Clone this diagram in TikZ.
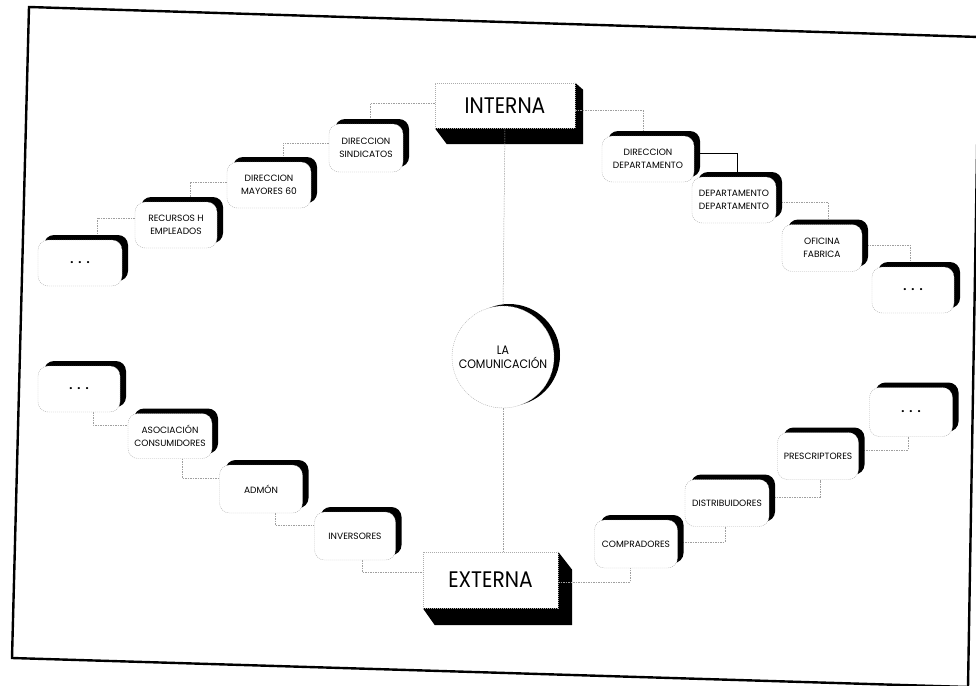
\documentclass[tikz,border=0pt]{standalone}
\usepackage{fontspec}
\newfontfamily\lab[FakeStretch=0.9]{Poppins}
\newfontfamily\slab{Poppins}
\pgfdeclarelayer{bg}
\pgfsetlayers{bg,main}
\tikzset{
  frame/.style={draw=black, line width=2.4pt, line join=miter},
  conn/.style={draw=gray!75, line width=0.5pt, dash pattern=on 1.5pt off 1pt},
  solidconn/.style={draw=black, line width=0.6pt},
  face/.style={fill=white, draw=gray!65, line width=0.4pt, dash pattern=on 1pt off 1pt},
  cbox/.style={face, rounded corners=10pt, align=center, inner sep=1pt,
    font=\slab\fontsize{9.1}{13}\selectfont,
    preaction={fill=black, transform canvas={shift={(6pt,5pt)}}}},
  bigbox/.style={face, inner sep=0pt, font=\lab\fontsize{22.5}{24}\selectfont},
  hub/.style={face, circle, minimum size=102pt, inner sep=0pt, align=center,
    font=\lab\fontsize{12.3}{14}\selectfont,
    preaction={fill=black, transform canvas={shift={(6pt,2pt)}}}},
  extr/.style={fill=black}
}
\newcommand{\ddd}{\textbf{\fontsize{11}{11}\selectfont .\hspace{5pt}.\hspace{5pt}.}}
\begin{document}
\begin{tikzpicture}[x=1pt,y=-1pt]
\useasboundingbox (0,0) rectangle (976,685);
\clip (0,0) rectangle (976,685);
\draw[frame] (29,7) -- (979,37) -- (968,687) -- (12,658) -- cycle;

% main boxes
\node[bigbox, minimum width=140pt, minimum height=45pt] (int) at (505,105.5) {INTERNA};
\node[bigbox, minimum width=135pt, minimum height=56pt] (ext) at (490.5,580) {EXTERNA};
\node[hub] (com) at (503,357) {LA\\COMUNICACIÓN};

% top-left chain
\node[cbox, minimum width=74pt, minimum height=48pt] (sind) at (366,148) {DIRECCION\\SINDICATOS};
\node[cbox, minimum width=84pt, minimum height=46pt] (may) at (269,185) {DIRECCION\\MAYORES 60};
\node[cbox, minimum width=82pt, minimum height=46pt] (rec) at (176,225) {RECURSOS H\\EMPLEADOS};
\node[cbox, minimum width=84pt, minimum height=46pt] (dtl) at (80,263) {\ddd};

% top-right chain
\node[cbox, minimum width=92pt, minimum height=46pt] (dirdep) at (648,159) {DIRECCION\\DEPARTAMENTO};
\node[cbox, minimum width=84pt, minimum height=46pt] (depdep) at (734,200) {DEPARTAMENTO\\DEPARTAMENTO};
\node[cbox, minimum width=80pt, minimum height=47pt] (ofi) at (822,248) {OFICINA\\FABRICA};
\node[cbox, minimum width=82pt, minimum height=46pt] (dtr) at (913,290) {\ddd};

% bottom-left chain
\node[cbox, minimum width=82pt, minimum height=46pt] (dbl) at (79,389) {\ddd};
\node[cbox, minimum width=84pt, minimum height=45pt] (asoc) at (170,436) {ASOCIACIÓN\\CONSUMIDORES};
\node[cbox, minimum width=83pt, minimum height=48pt] (admon) at (261,489) {ADMÓN};
\node[cbox, minimum width=81pt, minimum height=48pt] (inv) at (355,536) {INVERSORES};

% bottom-right chain
\node[cbox, minimum width=83pt, minimum height=48pt] (comp) at (636,544) {COMPRADORES};
\node[cbox, minimum width=84pt, minimum height=47pt] (dist) at (727,503) {DISTRIBUIDORES};
\node[cbox, minimum width=81pt, minimum height=47pt] (pres) at (818,456) {PRESCRIPTORES};
\node[cbox, minimum width=83pt, minimum height=49pt] (dbr) at (911,412) {\ddd};

\begin{pgfonlayer}{bg}
  % extrusions of the main boxes
  \fill[extr] (int.south west) -- ([shift={(12,16)}]int.south west) -- ([shift={(8,16)}]int.south east)
     -- ([shift={(8,7)}]int.north east) -- (int.north east) -- cycle;
  \fill[extr] (ext.south west) -- ([shift={(12,17)}]ext.south west) -- ([shift={(14,17)}]ext.south east)
     -- ([shift={(14,18)}]ext.north east) -- (ext.north east) -- cycle;
  % spine
  \draw[conn] (int.south) -- (com.north);
  \draw[conn] (com.south) -- (com.south |- ext.north);
  % top-left
  \draw[conn] ([yshift=2pt]int.west) -| ([xshift=4pt]sind.north);
  \draw[conn] ([yshift=5pt]sind.west) -| ([xshift=14pt]may.north);
  \draw[conn] ([yshift=3pt]may.west) -| ([xshift=14pt]rec.north);
  \draw[conn] ([yshift=7pt]rec.west) -| ([xshift=17pt]dtl.north);
  % top-right
  \draw[conn] ([yshift=-5pt]int.east) -| ([xshift=-5pt]dirdep.north);
  \draw[solidconn] ([yshift=6pt]dirdep.east) -| ([xshift=3pt]depdep.north);
  \draw[conn] ([yshift=-2pt]depdep.east) -| ([xshift=6pt]ofi.north);
  \draw[conn] ([yshift=3pt]ofi.east) -| ([xshift=-3pt]dtr.north);
  % bottom-left
  \draw[conn] ([xshift=14pt]dbl.south) |- ([yshift=11pt]asoc.west);
  \draw[conn] ([xshift=12pt]asoc.south) |- ([yshift=11pt]admon.west);
  \draw[conn] ([xshift=14pt]admon.south) |- ([yshift=11pt]inv.west);
  \draw[conn] ([xshift=7pt]inv.south) |- ([yshift=8pt]ext.west);
  % bottom-right
  \draw[conn] ([yshift=-2pt]ext.east) -| ([xshift=-6pt]comp.south);
  \draw[conn] ([yshift=2pt]comp.east) -| ([xshift=-2pt]dist.south);
  \draw[conn] ([yshift=6pt]dist.east) -| ([xshift=2pt]pres.south);
  \draw[conn] ([yshift=6pt]pres.east) -| ([xshift=-3pt]dbr.south);
\end{pgfonlayer}
\end{tikzpicture}
\end{document}
